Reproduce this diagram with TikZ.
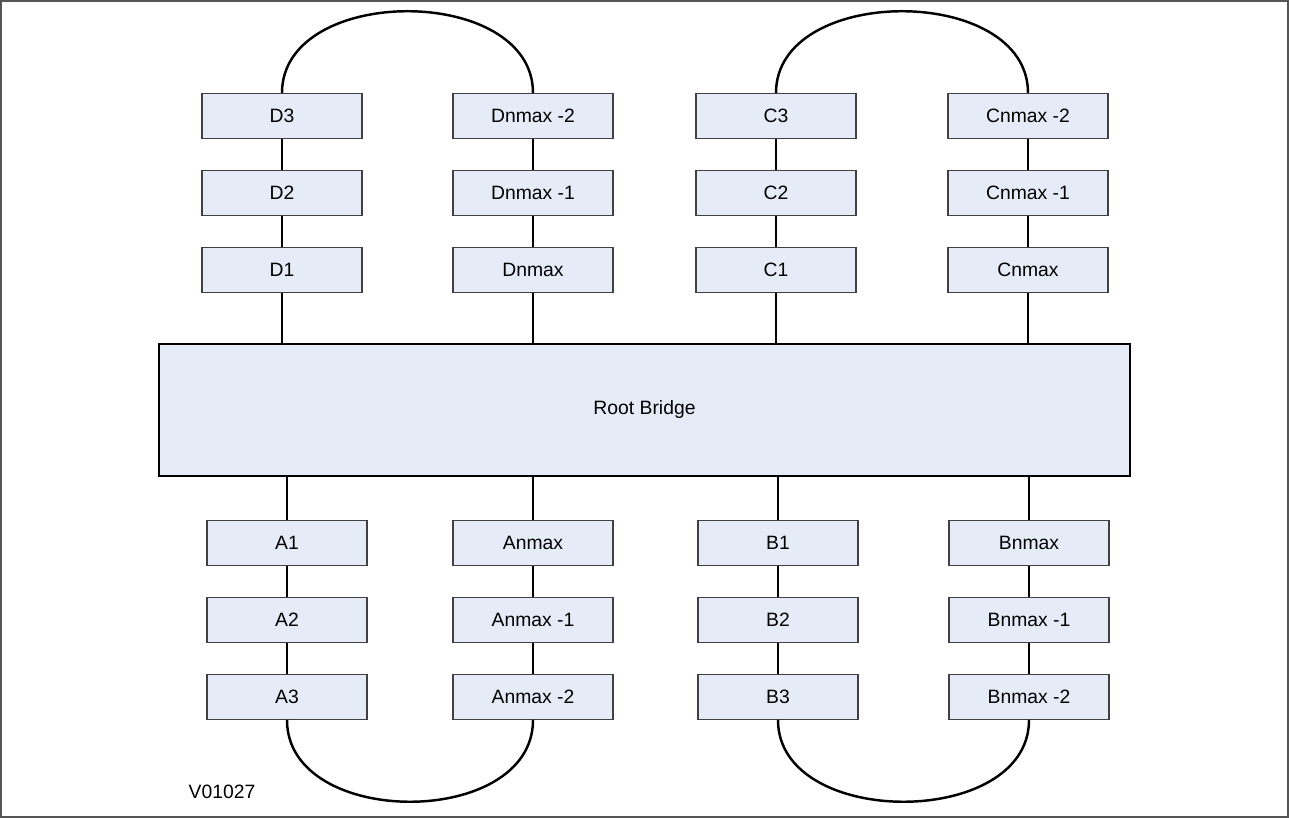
\documentclass[tikz,border=0pt]{standalone}
\usepackage{fontspec}
\setmainfont{Liberation Sans}
\usetikzlibrary{positioning}
\definecolor{boxfill}{RGB}{230,236,247}
\definecolor{framegray}{RGB}{85,85,85}
\tikzset{
    bridge/.style = {draw=black!75,line width=0.6pt,fill=boxfill,inner sep=0,
        minimum width=3.2cm,minimum height=0.9cm,font=\fontsize{11}{13}\selectfont},
    root/.style = {draw=black,line width=1.2pt,fill=boxfill,inner sep=0,
        minimum width=19.42cm,minimum height=2.64cm,font=\fontsize{11}{13}\selectfont},
    link/.style = {line width=1.1pt},
    ring/.style = {line width=1.4pt},
    frame/.style = {draw=framegray,line width=1.1pt}
}

\begin{document}
\begin{tikzpicture}[x=0.02cm,y=0.02cm]
    \newcommand\vsep{77}
    \newcommand\rise{109}
    \useasboundingbox (0,0) rectangle (1289,818);
    % Frame
    \draw[frame] (1,1) rectangle (1288,817);
    % Root
    \node[root] (R) at (644.5,408) {Root Bridge};
    % Upper rings
    \path (282,702) node[bridge] (D3) {D3}
        to +(0,-\vsep) node[bridge] (D2) {D2}
        to +(0,-2*\vsep) node[bridge] (D1) {D1}
    ;
    \path (533,702) node[bridge] (Dn2) {Dnmax -2}
        to +(0,-\vsep) node[bridge] (Dn1) {Dnmax -1}
        to +(0,-2*\vsep) node[bridge] (Dn) {Dnmax}
    ;
    \path (776,702) node[bridge] (C3) {C3}
        to +(0,-\vsep) node[bridge] (C2) {C2}
        to +(0,-2*\vsep) node[bridge] (C1) {C1}
    ;
    \path (1028,702) node[bridge] (Cn2) {Cnmax -2}
        to +(0,-\vsep) node[bridge] (Cn1) {Cnmax -1}
        to +(0,-2*\vsep) node[bridge] (Cn) {Cnmax}
    ;
    % Lower rings
    \path (287,275) node[bridge] (A1) {A1}
        to +(0,-\vsep) node[bridge] (A2) {A2}
        to +(0,-2*\vsep) node[bridge] (A3) {A3}
    ;
    \path (533,275) node[bridge] (An) {Anmax}
        to +(0,-\vsep) node[bridge] (An1) {Anmax -1}
        to +(0,-2*\vsep) node[bridge] (An2) {Anmax -2}
    ;
    \path (778,275) node[bridge] (B1) {B1}
        to +(0,-\vsep) node[bridge] (B2) {B2}
        to +(0,-2*\vsep) node[bridge] (B3) {B3}
    ;
    \path (1029,275) node[bridge] (Bn) {Bnmax}
        to +(0,-\vsep) node[bridge] (Bn1) {Bnmax -1}
        to +(0,-2*\vsep) node[bridge] (Bn2) {Bnmax -2}
    ;
    % Chains
    \foreach \src/\dest in {D3/D2,D2/D1,Dn2/Dn1,Dn1/Dn,C3/C2,C2/C1,Cn2/Cn1,Cn1/Cn,
            A1/A2,A2/A3,An/An1,An1/An2,B1/B2,B2/B3,Bn/Bn1,Bn1/Bn2}
        \draw[link] (\src) to (\dest);
    % Uplinks
    \foreach \src in {D1,Dn,C1,Cn}
        \draw[link] (\src.south) to (\src.south |- R.north);
    \foreach \src in {A1,An,B1,Bn}
        \draw[link] (\src.north) to (\src.north |- R.south);
    % Ring closures
    \foreach \src/\dest in {D3/Dn2,C3/Cn2}
        \draw[ring] (\src.north) .. controls +(0,\rise) and +(0,\rise) .. (\dest.north);
    \foreach \src/\dest in {A3/An2,B3/Bn2}
        \draw[ring] (\src.south) .. controls +(0,-\rise) and +(0,-\rise) .. (\dest.south);
    % Drawing number
    \node[font=\fontsize{11}{13}\selectfont] (num) at (222,26) {V01027};
\end{tikzpicture}
\end{document}
